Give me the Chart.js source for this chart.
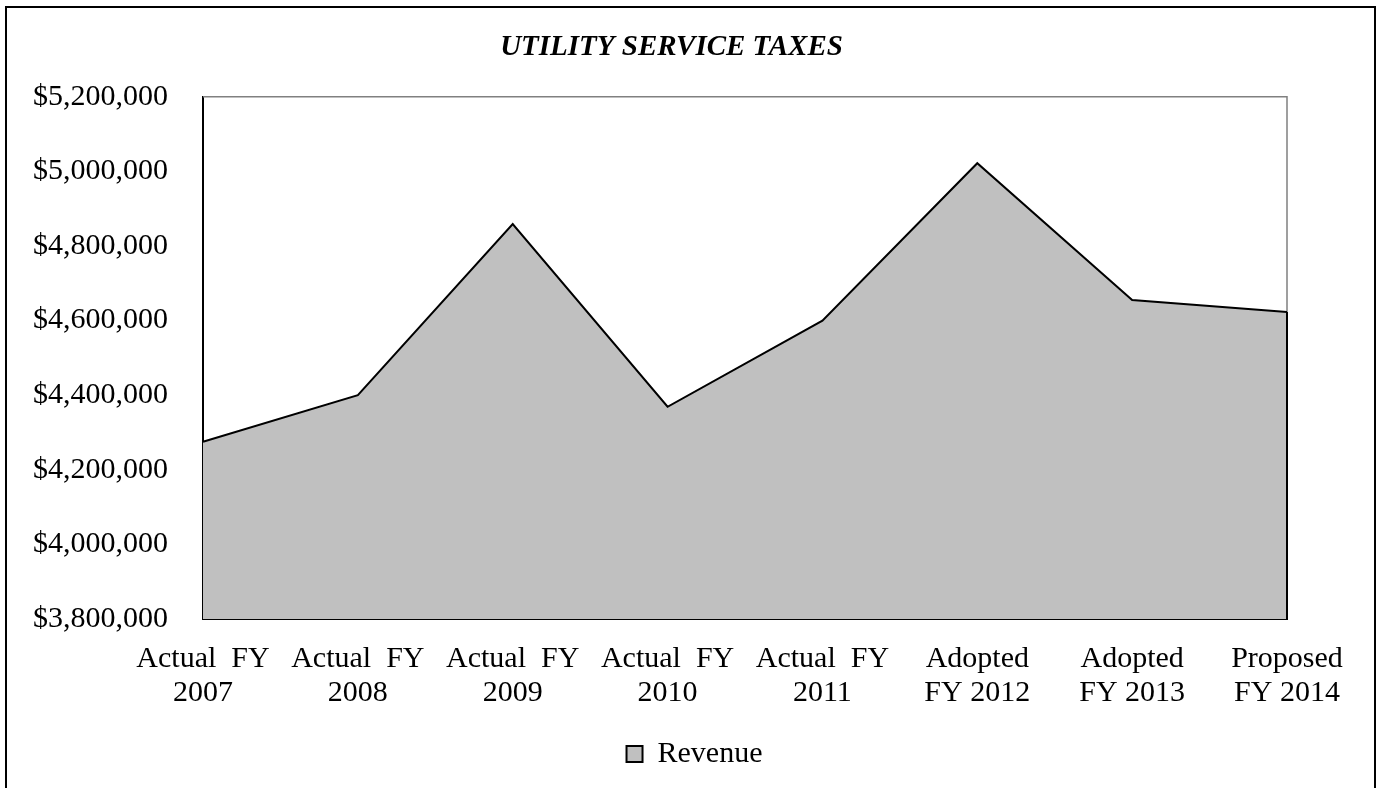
<!DOCTYPE html>
<html>
<head>
<meta charset="utf-8">
<title>Utility Service Taxes</title>
<script src="https://cdn.jsdelivr.net/npm/chart.js@4/dist/chart.umd.min.js"></script>
<style>
  html, body { margin: 0; padding: 0; background: #fff; overflow: hidden; }
  #frame {
    position: absolute; left: 5px; top: 6px;
    width: 1367px; height: 900px;
    border: 2px solid #000;
  }
  #chart { position: absolute; left: 0; top: 0; }
</style>
</head>
<body>
<div id="frame"></div>
<canvas id="chart" width="1377" height="788"></canvas>
<script>
// Fiscal year labels (two lines each) and revenue per year
const years = [
  ['Actual  FY', '2007'],
  ['Actual  FY', '2008'],
  ['Actual  FY', '2009'],
  ['Actual  FY', '2010'],
  ['Actual  FY', '2011'],
  ['Adopted', 'FY 2012'],
  ['Adopted', 'FY 2013'],
  ['Proposed', 'FY 2014']
];
const revenue = [4275000, 4400000, 4859000, 4369000, 4600000, 5022000, 4655000, 4623000];

const yMin = 3800000;
const yMax = 5200000;
const yStep = 200000;

const serif = "'Liberation Serif', 'Times New Roman', serif";

// Gray top/right frame of the plot area, plus the closing edge of the area on the right
const plotFrame = {
  id: 'plotFrame',
  beforeDatasetsDraw(chart) {
    const { ctx, chartArea: a } = chart;
    ctx.save();
    ctx.strokeStyle = '#808080';
    ctx.lineWidth = 1.5;
    ctx.beginPath();
    ctx.moveTo(a.left, a.top);
    ctx.lineTo(a.right, a.top);
    ctx.lineTo(a.right, a.bottom);
    ctx.stroke();
    ctx.restore();
  },
  afterDatasetsDraw(chart) {
    const { ctx, chartArea: a } = chart;
    const pts = chart.getDatasetMeta(0).data;
    const last = pts[pts.length - 1];
    ctx.save();
    ctx.strokeStyle = '#000';
    ctx.lineWidth = 2;
    ctx.beginPath();
    ctx.moveTo(last.x, last.y);
    ctx.lineTo(last.x, a.bottom);
    ctx.stroke();
    ctx.restore();
  }
};

// Title and legend sit a little right of the canvas centre
const nudgeBlocks = {
  id: 'nudgeBlocks',
  afterLayout(chart) {
    const t = chart.titleBlock;
    if (t) { t.left += 18; t.right += 18; }
    const l = chart.legend;
    if (l) { l.left += 41; l.right += 41; }
  }
};

new Chart(document.getElementById('chart'), {
  type: 'line',
  data: {
    labels: years,
    datasets: [{
      label: 'Revenue',
      data: revenue,
      fill: 'start',
      backgroundColor: '#c0c0c0',
      borderColor: '#000',
      borderWidth: 2,
      pointRadius: 0,
      tension: 0
    }]
  },
  options: {
    responsive: false,
    animation: false,
    devicePixelRatio: 1,
    layout: { padding: { left: 20, right: 90, top: 0, bottom: 9 } },
    plugins: {
      title: {
        display: true,
        text: 'UTILITY SERVICE TAXES',
        color: '#000',
        font: { family: serif, size: 29, weight: 'bold', style: 'italic', lineHeight: 1.2 },
        padding: { top: 30, bottom: 32 }
      },
      legend: {
        position: 'bottom',
        labels: {
          color: '#000',
          font: { family: serif, size: 30 },
          boxWidth: 16,
          boxHeight: 16,
          padding: 6
        }
      },
      tooltip: { enabled: false }
    },
    scales: {
      x: {
        offset: false,
        grid: { display: false, drawTicks: false },
        border: { color: '#000', width: 2 },
        ticks: {
          color: '#000',
          font: { family: serif, size: 30, lineHeight: 34 / 30 },
          padding: 23,
          maxRotation: 0,
          autoSkip: false
        }
      },
      y: {
        min: yMin,
        max: yMax,
        grid: { display: false, drawTicks: false },
        border: { color: '#000', width: 2 },
        afterFit(axis) { axis.width = 183; },
        ticks: {
          stepSize: yStep,
          color: '#000',
          font: { family: serif, size: 30 },
          padding: 35,
          callback: v => '$' + v.toLocaleString('en-US')
        }
      }
    }
  },
  plugins: [plotFrame, nudgeBlocks]
});
</script>
</body>
</html>
